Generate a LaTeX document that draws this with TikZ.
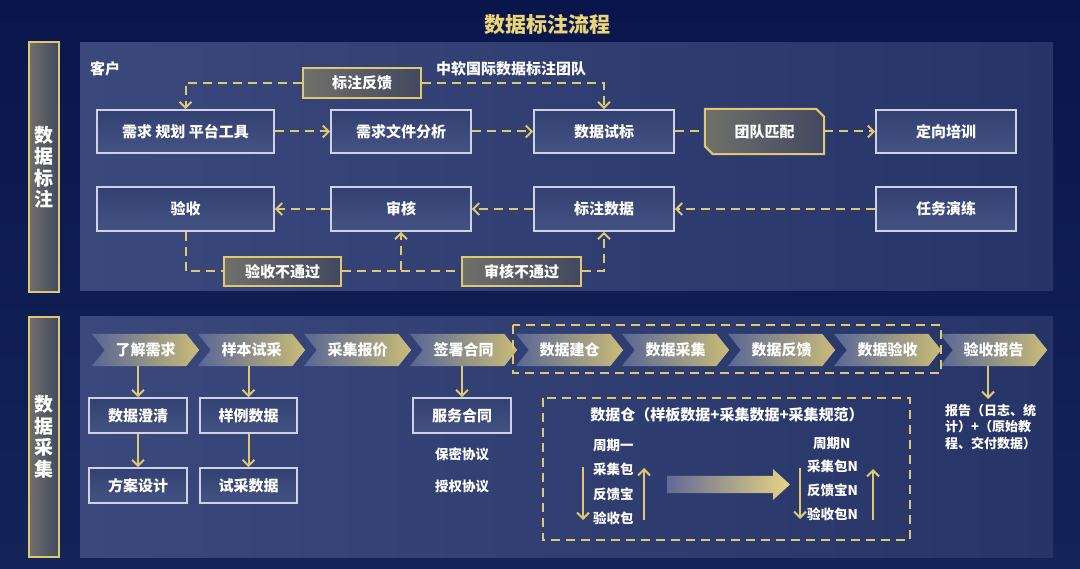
\documentclass[tikz,border=0pt]{standalone}
\usepackage{fontspec}
\setmainfont{Noto Sans CJK SC}
\usetikzlibrary{arrows.meta,calc}
\pgfdeclarelayer{back}
\pgfdeclarelayer{mid}
\pgfsetlayers{back,mid,main}
\definecolor{gold}{RGB}{222,200,112}
\definecolor{titlegold}{RGB}{236,212,120}
\definecolor{bgtop}{RGB}{9,22,76}
\definecolor{bgbot}{RGB}{20,36,88}
\definecolor{panelL}{RGB}{58,72,124}
\definecolor{panelR}{RGB}{38,52,104}
\definecolor{boxT}{RGB}{50,64,114}
\definecolor{boxB}{RGB}{68,82,132}
\definecolor{boxline}{RGB}{205,210,230}
\definecolor{greyL}{RGB}{112,112,106}
\definecolor{greyR}{RGB}{66,72,96}
\definecolor{chevL}{RGB}{88,102,150}
\definecolor{chevM}{RGB}{126,132,154}
\definecolor{chevR}{RGB}{202,188,120}
\definecolor{arrL}{RGB}{98,106,150}
\definecolor{arrR}{RGB}{232,212,132}
\begin{document}
\begin{tikzpicture}[x=1pt,y=-1pt,
  txt/.style={text=white,inner sep=0pt,font=\fontsize{15}{18}\selectfont\bfseries},
  wbox/.style={txt,draw=boxline,line width=1.6pt,top color=boxT,bottom color=boxB},
  gbox/.style={txt,draw=gold,line width=2pt,left color=greyL,right color=greyR},
  barbox/.style={draw=gold,line width=2pt,left color=greyL,right color=greyR,text=white,inner sep=0pt,align=center,font=\fontsize{19}{21.5}\selectfont\bfseries},
  chevnode/.style={txt,minimum width=107pt,minimum height=32pt},
  chevfill/.style={left color=chevL,middle color=chevM,right color=chevR},
  dline/.style={gold,line width=2pt,dash pattern=on 9pt off 6pt},
  sline/.style={gold,line width=2pt},
  barb/.style={-{Straight Barb[length=6pt,width=12pt]}},
  small/.style={text=white,inner sep=0pt,font=\fontsize{13.5}{16}\selectfont\bfseries}
]
\useasboundingbox (0,0) rectangle (1080,569);
\begin{pgfonlayer}{back}
\path[top color=bgtop,bottom color=bgbot] (0,0) rectangle (1080,569);
\path[left color=panelL,right color=panelR] (80,43) rectangle (1053,291);
\path[left color=panelL,right color=panelR] (80,317) rectangle (1053,557);
\end{pgfonlayer}

% title
\node[text=titlegold,inner sep=0pt,font=\fontsize{21}{24}\selectfont\bfseries] (title) at (547,25) {数据标注流程};

% side bars
\node[barbox,minimum width=30pt,minimum height=250pt] (bar1) at (44,167) {数\\据\\标\\注};
\node[barbox,minimum width=30pt,minimum height=240pt] (bar2) at (44,437) {数\\据\\采\\集};

% ---------- panel 1 ----------
\node[txt,anchor=west] (cust) at (90,69) {客户};
\node[txt,anchor=west] (team0) at (436,69) {中软国际数据标注团队};
\node[gbox,minimum width=118pt,minimum height=30pt] (fb) at (362,83) {标注反馈};

\node[wbox,minimum width=177pt,minimum height=43pt] (req) at (185.5,131.5) {需求 规划 平台工具};
\node[wbox,minimum width=140pt,minimum height=43pt] (ana) at (401,131.5) {需求文件分析};
\node[wbox,minimum width=140pt,minimum height=43pt] (trial) at (604,131.5) {数据试标};
\node[txt,minimum width=119pt,minimum height=45pt] (team) at (764.5,131.5) {团队匹配};
\node[wbox,minimum width=140pt,minimum height=43pt] (train) at (946,131.5) {定向培训};

\node[wbox,minimum width=177pt,minimum height=44pt] (acc) at (185.5,209) {验收};
\node[wbox,minimum width=140pt,minimum height=44pt] (rev) at (401,209) {审核};
\node[wbox,minimum width=140pt,minimum height=44pt] (lab) at (604,209) {标注数据};
\node[wbox,minimum width=140pt,minimum height=44pt] (task) at (946,209) {任务演练};

\node[gbox,minimum width=117pt,minimum height=29pt] (accfail) at (282.5,271.5) {验收不通过};
\node[gbox,minimum width=119pt,minimum height=29pt] (revfail) at (521.5,271.5) {审核不通过};

\begin{pgfonlayer}{mid}
\path[draw=gold,line width=2pt,left color=greyL,right color=greyR]
  (team.north west) -- ($(team.north east)+(-8,0)$) -- ($(team.north east)+(0,8)$)
  -- (team.south east) -- ($(team.south west)+(8,0)$) -- ($(team.south west)+(0,-8)$) -- cycle;
\end{pgfonlayer}

\draw[dline,barb] (fb.west) -| (req.north);
\draw[dline,barb] (fb.east) -| (trial.north);
\draw[dline,barb] (req.east) -- (ana.west);
\draw[dline,barb] (ana.east) -- (trial.west);
\draw[dline] (trial.east) -- (team.west);
\draw[dline,barb] (team.east) -- (train.west);
\draw[dline,barb] (task.west) -- (lab.east);
\draw[dline,barb] (lab.west) -- (rev.east);
\draw[dline,barb] (rev.west) -- (acc.east);
\draw[dline] (acc.south) |- (accfail.west);
\draw[dline,barb] (accfail.east) -| (rev.south);
\draw[dline] (rev.south |- accfail.east) -- (revfail.west);
\draw[dline,barb] (revfail.east) -| (lab.south);

% ---------- panel 2 ----------
\foreach \i/\t in {1/了解需求,2/样本试采,3/采集报价,4/签署合同,5/数据建仓,6/数据采集,7/数据反馈,8/数据验收,9/验收报告}{
  \node[chevnode] (c\i) at ({145.5+106*(\i-1)},350) {\t};
  \begin{pgfonlayer}{mid}
  \path[chevfill] (c\i.north west) -- ($(c\i.north east)+(-13,0)$) -- (c\i.east)
    -- ($(c\i.south east)+(-13,0)$) -- (c\i.south west) -- ($(c\i.west)+(13,0)$) -- cycle;
  \end{pgfonlayer}
}
\draw[dline] (513,325) rectangle (941,373);

\node[wbox,minimum width=98pt,minimum height=35pt] (clar) at (138,415.5) {数据澄清};
\node[wbox,minimum width=98pt,minimum height=35pt] (plan) at (138,485.5) {方案设计};
\node[wbox,minimum width=97pt,minimum height=35pt] (samp) at (248.5,415.5) {样例数据};
\node[wbox,minimum width=97pt,minimum height=35pt] (tdat) at (248.5,485.5) {试采数据};
\node[wbox,minimum width=98pt,minimum height=35pt] (serv) at (462,415.5) {服务合同};
\node[small] (secret) at (462,454) {保密协议};
\node[small] (auth) at (462,486) {授权协议};

\draw[sline,barb] (c1.south -| clar.north) -- (clar.north);
\draw[sline,barb] (clar.south) -- (plan.north);
\draw[sline,barb] (c2.south -| samp.north) -- (samp.north);
\draw[sline,barb] (samp.south) -- (tdat.north);
\draw[sline,barb] (c4.south -| serv.north) -- (serv.north);

\node[text=white,inner sep=0pt,anchor=north west,align=left,font=\fontsize{13}{16.5}\selectfont\bfseries] (report) at (945,404) {报告（日志、统\\计）+（原始教\\程、交付数据）};
\coordinate (rtip) at (988,399);
\draw[sline,barb] (c9.south -| rtip) -- (rtip);

% data warehouse
\draw[dline] (543,398) rectangle (910,540);
\node[txt] (wh) at (727,415) {数据仓（样板数据+采集数据+采集规范）};
\node[small,anchor=west] (l1) at (593,445) {周期一};
\node[small,anchor=west] (l2) at (593,469) {采集包};
\node[small,anchor=west] (l3) at (593,494) {反馈宝};
\node[small,anchor=west] (l4) at (593,518) {验收包};
\node[small,anchor=west] (r1) at (813,443) {周期N};
\node[small,anchor=west] (r2) at (807,466) {采集包N};
\node[small,anchor=west] (r3) at (807,490) {反馈宝N};
\node[small,anchor=west] (r4) at (807,514) {验收包N};
\coordinate (ad1) at (583,467); \coordinate (ad2) at (583,520);
\coordinate (au1) at (644,520); \coordinate (au2) at (644,468);
\coordinate (bd1) at (800,468); \coordinate (bd2) at (800,519);
\coordinate (bu1) at (873,520); \coordinate (bu2) at (873,469);
\draw[sline,barb] (ad1) -- (ad2);
\draw[sline,barb] (au1) -- (au2);
\draw[sline,barb] (bd1) -- (bd2);
\draw[sline,barb] (bu1) -- (bu2);
\path[left color=arrL,right color=arrR] (667,476) -- (773,476) -- (773,469) -- (790,484.5) -- (773,500) -- (773,493) -- (667,493) -- cycle;
\end{tikzpicture}
\end{document}
